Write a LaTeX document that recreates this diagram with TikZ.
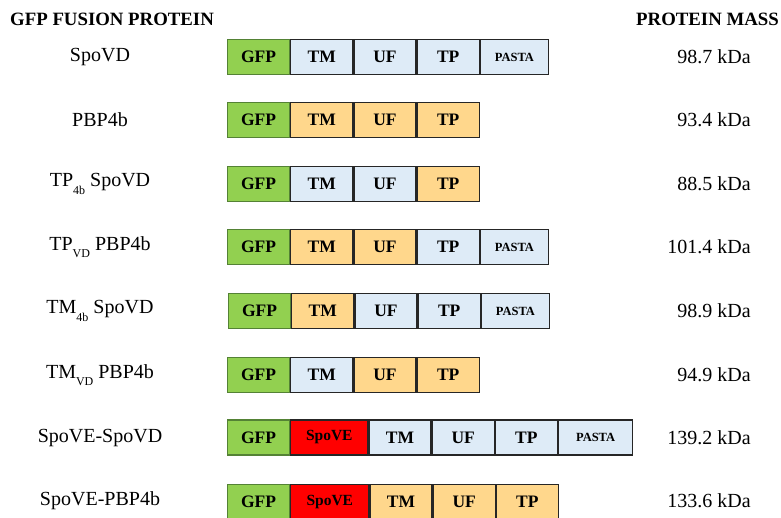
\documentclass[tikz,border=0pt]{standalone}
\usepackage{fontspec}
\setmainfont{Liberation Serif}
\definecolor{gfpgreen}{RGB}{146,208,80}
\definecolor{gfpedge}{RGB}{84,130,53}
\definecolor{segblue}{RGB}{222,235,247}
\definecolor{segorange}{RGB}{255,215,140}
\definecolor{segred}{RGB}{255,0,0}
\definecolor{edgegray}{RGB}{38,38,38}
\newcommand{\subl}[1]{\raisebox{-0.38em}{\fontsize{12}{12}\selectfont #1}}
\tikzset{
  seg/.style={draw=edgegray, line width=1.2pt, minimum height=35pt, minimum width=62pt,
    inner sep=0pt, anchor=west, font=\bfseries\fontsize{17.5}{17.5}\selectfont},
  gfpbox/.style={seg, fill=gfpgreen, draw=gfpedge},
  bluebox/.style={seg, fill=segblue},
  orbox/.style={seg, fill=segorange},
  pastabox/.style={seg, fill=segblue, minimum width=68pt, font=\bfseries\fontsize{12.5}{12.5}\selectfont},
  spovebox/.style={seg, fill=segred, minimum width=77pt, font=\bfseries\fontsize{15.5}{15.5}\selectfont},
  lbl/.style={font=\fontsize{20}{20}\selectfont, anchor=center, inner sep=0pt},
  mass/.style={font=\fontsize{20}{20}\selectfont, anchor=east, inner sep=0pt},
  hdr/.style={font=\bfseries\fontsize{18.8}{18.8}\selectfont, inner sep=0pt},
}
\begin{document}
\begin{tikzpicture}[x=1pt,y=-1pt]
\useasboundingbox (0,0) rectangle (781,517);
\node[hdr, anchor=west] (h1) at (10,19.5) {GFP FUSION PROTEIN};
\node[hdr, anchor=east] (h2) at (779,19.5) {PROTEIN MASS};

% Row 1
\node[lbl] (l1) at (100,57) {SpoVD};
\node[gfpbox] (r1a) at (227,57) {GFP};
\node[bluebox] (r1b) at (r1a.east) {TM};
\node[bluebox] (r1c) at (r1b.east) {UF};
\node[bluebox] (r1d) at (r1c.east) {TP};
\node[pastabox] (r1e) at (r1d.east) {PASTA};
\node[mass] (m1) at (751,57) {98.7 kDa};

% Row 2
\node[lbl] (l2) at (100,120) {PBP4b};
\node[gfpbox] (r2a) at (227,120) {GFP};
\node[orbox] (r2b) at (r2a.east) {TM};
\node[orbox] (r2c) at (r2b.east) {UF};
\node[orbox] (r2d) at (r2c.east) {TP};
\node[mass] (m2) at (751,120) {93.4 kDa};

% Row 3
\node[lbl] (l3) at (100,184) {TP\subl{4b} SpoVD};
\node[gfpbox] (r3a) at (227,184) {GFP};
\node[bluebox] (r3b) at (r3a.east) {TM};
\node[bluebox] (r3c) at (r3b.east) {UF};
\node[orbox] (r3d) at (r3c.east) {TP};
\node[mass] (m3) at (751,184) {88.5 kDa};

% Row 4
\node[lbl] (l4) at (100,247) {TP\subl{VD} PBP4b};
\node[gfpbox] (r4a) at (227,247) {GFP};
\node[orbox] (r4b) at (r4a.east) {TM};
\node[orbox] (r4c) at (r4b.east) {UF};
\node[bluebox] (r4d) at (r4c.east) {TP};
\node[pastabox] (r4e) at (r4d.east) {PASTA};
\node[mass] (m4) at (751,247) {101.4 kDa};

% Row 5
\node[lbl] (l5) at (100,311) {TM\subl{4b} SpoVD};
\node[gfpbox] (r5a) at (228,311) {GFP};
\node[orbox] (r5b) at (r5a.east) {TM};
\node[bluebox] (r5c) at (r5b.east) {UF};
\node[bluebox] (r5d) at (r5c.east) {TP};
\node[pastabox] (r5e) at (r5d.east) {PASTA};
\node[mass] (m5) at (751,311) {98.9 kDa};

% Row 6
\node[lbl] (l6) at (100,375) {TM\subl{VD} PBP4b};
\node[gfpbox] (r6a) at (227,375) {GFP};
\node[bluebox] (r6b) at (r6a.east) {TM};
\node[orbox] (r6c) at (r6b.east) {UF};
\node[orbox] (r6d) at (r6c.east) {TP};
\node[mass] (m6) at (751,375) {94.9 kDa};

% Row 7
\node[lbl] (l7) at (100,437.5) {SpoVE-SpoVD};
\node[gfpbox] (r7a) at (227,437.5) {GFP};
\node[spovebox] (r7b) at (r7a.east) {SpoVE};
\node[bluebox] (r7c) at (r7b.east) {TM};
\node[bluebox] (r7d) at (r7c.east) {UF};
\node[bluebox] (r7e) at (r7d.east) {TP};
\node[pastabox, minimum width=74pt] (r7f) at (r7e.east) {PASTA};
\node[mass] (m7) at (751,437.5) {139.2 kDa};

% Row 8
\node[lbl] (l8) at (100,501) {SpoVE-PBP4b};
\node[gfpbox] (r8a) at (227,502) {GFP};
\node[spovebox, minimum width=78pt] (r8b) at (r8a.east) {SpoVE};
\node[orbox] (r8c) at (r8b.east) {TM};
\node[orbox] (r8d) at (r8c.east) {UF};
\node[orbox] (r8e) at (r8d.east) {TP};
\node[mass] (m8) at (751,501) {133.6 kDa};
\end{tikzpicture}
\end{document}
